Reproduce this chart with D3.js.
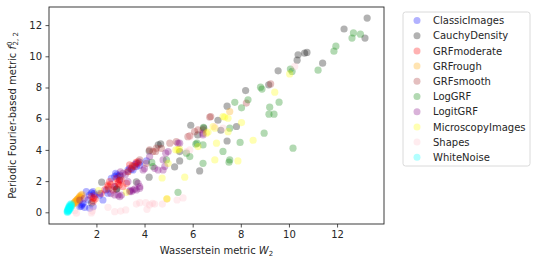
<!DOCTYPE html>
<html><head><meta charset="utf-8">
<script src="https://cdn.jsdelivr.net/npm/d3@7"></script>
<style>body{margin:0;background:#fff}svg{display:block}text{font-family:"DejaVu Sans",sans-serif;}</style>
</head><body><svg id="c" width="537" height="266"></svg>
<script>
const seriesNames = ["ClassicImages","CauchyDensity","GRFmoderate","GRFrough","GRFsmooth","LogGRF","LogitGRF","MicroscopyImages","Shapes","WhiteNoise"];
const seriesColors = ["blue","black","red","orange","brown","green","purple","yellow","pink","cyan"];
const xTicks = [2,4,6,8,10,12];
const yTicks = [0,2,4,6,8,10,12];

const classicImages = [[1.31,0.36],[1.37,0.4],[1.44,0.58],[1.51,0.32],[1.58,1.32],[1.65,0.79],[1.72,1.11],[1.72,0.26],[1.86,1.32],[1.86,0.36],[1.9,1.2],[2.14,1.11],[2.14,1.22],[2.27,0.79],[2.41,1.43],[2.48,1.22],[2.62,2.18],[2.76,2.29],[2.76,1.64],[2.8,2.5],[2.9,2.3],[2.97,2.07],[2.97,2.39],[3.31,2.71],[3.38,2.82],[3.52,2.71],[3.66,3.14],[3.66,2.92],[3.8,3.21],[3.8,3.02],[4.08,3.29],[1.4,0.5],[1.8,1.25],[2.85,2.4],[3.45,2.75],[3.6,3.05]];
const cauchyDensity = [[1.8,0.6],[2.22,1.93],[2.83,1.48],[2.85,1.5],[3.66,1.95],[4.19,3.93],[4.19,2.25],[4.57,4.32],[4.67,4.38],[5.25,2.91],[5.46,3.29],[5.46,3.89],[5.92,5.58],[6.21,4.96],[6.29,2.65],[6.46,5.39],[7.05,5.9],[7.17,5.26],[7.43,4.57],[7.43,6.8],[7.82,5.5],[8.2,7.8],[9.16,8.17],[9.55,9.07],[10.34,9.75],[10.38,10.1],[10.65,10.2],[10.75,10.25],[11.4,9.56],[12.29,11.75],[13.16,11.17],[13.25,12.45]];
const grfModerate = [[1.79,1.0],[1.86,0.68],[1.86,0.9],[1.95,0.85],[2.2,1.2],[2.35,1.45],[2.48,1.64],[2.48,1.75],[2.55,1.96],[2.69,1.43],[2.76,1.64],[2.83,2.18],[2.9,1.86],[2.9,1.96],[2.97,2.07],[3.04,2.07],[3.1,1.64],[3.25,1.86],[3.31,2.6],[3.38,3.04],[3.45,2.82],[3.59,2.93],[3.73,3.14],[3.73,3.25],[2.6,1.8],[2.95,1.75],[3.5,3.0],[3.65,3.2],[1.9,0.95]];
const grfRough = [[1.0,0.45],[1.05,0.55],[1.08,0.6],[1.1,0.65],[1.12,0.7],[1.15,0.72],[1.18,0.78],[1.2,0.82],[1.22,0.85],[1.25,0.9],[1.28,0.95],[1.3,1.0],[1.33,1.05],[1.37,1.1],[1.15,0.6],[1.25,0.75],[1.35,0.95],[1.4,1.15],[7.54,6.46],[4.93,0.85]];
const grfSmooth = [[2.5,1.5],[3.0,2.3],[3.31,2.6],[3.52,2.93],[3.8,3.36],[4.08,3.14],[4.21,4.0],[4.35,3.89],[4.49,4.11],[4.46,3.9],[4.7,4.1],[5.05,4.43],[5.32,4.53],[5.8,4.85],[5.88,4.9],[6.08,5.17],[6.22,5.28],[6.43,5.28],[6.71,6.1],[6.75,6.14],[8.23,7.0],[9.24,8.23]];
const logGRF = [[4.3,3.2],[4.35,2.93],[4.91,3.36],[5.39,1.28],[5.74,3.79],[5.88,3.57],[6.13,4.37],[6.18,4.43],[6.43,3.14],[6.43,4.32],[6.45,5.45],[7.26,3.9],[7.51,3.21],[7.54,3.36],[7.54,5.39],[7.75,7.05],[7.97,4.48],[8.03,6.7],[8.3,7.21],[8.82,8.02],[8.88,7.9],[8.97,5.07],[9.17,6.29],[9.38,6.29],[9.2,6.74],[9.59,7.06],[10.06,9.18],[10.13,9.03],[10.17,4.11],[11.21,9.11],[11.87,10.33],[11.95,10.65],[12.62,11.17],[12.68,11.5],[12.97,11.42]];
const logitGRF = [[1.31,0.79],[1.5,0.9],[1.93,1.11],[2.6,1.2],[2.76,1.11],[2.9,1.11],[2.97,1.0],[3.04,1.11],[3.38,1.32],[3.45,1.32],[3.52,1.43],[3.66,1.43],[3.73,1.86],[3.8,1.64],[3.8,1.54],[3.31,1.96],[3.0,2.6],[3.2,2.4],[3.94,2.71],[4.21,3.57],[4.42,2.82],[4.56,2.71],[4.77,2.71],[4.84,2.93],[4.77,3.36],[4.88,3.79],[4.98,3.89],[5.39,4.43],[5.46,4.43],[6.43,4.96],[6.43,5.07],[3.6,1.5],[3.4,1.4],[4.0,2.8],[3.1,2.5]];
const microscopyImages = [[2.09,1.39],[3.25,1.28],[4.73,2.2],[4.93,0.88],[4.98,3.14],[5.3,4.0],[5.39,4.0],[5.45,4.05],[5.67,2.25],[6.22,4.21],[6.57,5.07],[6.64,5.14],[6.85,5.5],[6.92,5.39],[6.92,3.36],[6.99,4.43],[7.26,6.14],[7.33,6.1],[7.47,6.03],[7.47,5.17],[7.88,3.29],[8.03,5.75],[8.51,4.62],[9.41,7.7],[10.03,8.87]];
const shapes = [[1.1,0.1],[1.17,-0.06],[1.79,-0.04],[1.83,0.08],[1.86,0.32],[2.48,0.32],[2.76,0.04],[3.01,0.08],[3.22,0.15],[3.66,0.53],[3.8,0.62],[4.05,0.62],[4.1,0.19],[4.21,0.47],[4.33,0.58],[4.42,0.53],[4.74,0.53],[5.35,0.79],[5.6,0.92],[5.74,3.89],[5.88,4.0],[5.88,4.85],[7.26,5.39],[6.92,5.49],[10.24,9.35]];
const whiteNoise = [[0.78,0.02],[0.8,0.05],[0.82,0.1],[0.84,0.12],[0.8,0.15],[0.85,0.2],[0.87,0.22],[0.83,0.25],[0.88,0.3],[0.9,0.33],[0.86,0.35],[0.92,0.4],[0.94,0.45],[0.9,0.5],[0.95,0.55],[0.97,0.4],[0.81,0.0],[0.85,0.08],[0.89,0.18],[0.93,0.28],[0.96,0.5],[0.87,0.4],[0.83,0.18],[0.91,0.26],[0.79,0.08],[0.86,0.3]];

const seriesData = [classicImages,cauchyDensity,grfModerate,grfRough,grfSmooth,logGRF,logitGRF,microscopyImages,shapes,whiteNoise];

const svg = d3.select("#c");
const L=49, R=384, T=7, B=224;
const x = d3.scaleLinear().domain([0.03,13.95]).range([L,R]);
const y = d3.scaleLinear().domain([-0.75,13.16]).range([B,T]);

const g = svg.append("g");
seriesData.forEach((data,i)=>{
  g.selectAll(null).data(data).enter().append("circle")
    .attr("cx",d=>x(d[0])).attr("cy",d=>y(d[1])).attr("r",3.6)
    .attr("fill",seriesColors[i]).attr("fill-opacity",0.3);
});

const xAxis = svg.append("g").attr("transform",`translate(0,${B})`)
  .call(d3.axisBottom(x).tickValues(xTicks).tickSize(3.5).tickPadding(3.5).tickFormat(d3.format("d")));
const yAxis = svg.append("g").attr("transform",`translate(${L},0)`)
  .call(d3.axisLeft(y).tickValues(yTicks).tickSize(3.5).tickPadding(3.5).tickFormat(d3.format("d")));
[xAxis,yAxis].forEach(a=>{
  a.select(".domain").remove();
  a.selectAll("text").attr("font-size",10).attr("fill","#262626").attr("font-family","DejaVu Sans");
  a.selectAll("line").attr("stroke","#262626").attr("stroke-width",0.8);
});
svg.append("rect").attr("x",L).attr("y",T).attr("width",R-L).attr("height",B-T)
  .attr("fill","none").attr("stroke","#262626").attr("stroke-width",0.9);

// x label
const xl = svg.append("text").attr("x",(L+R)/2).attr("y",254).attr("text-anchor","middle").attr("font-size",10).attr("fill","#262626");
xl.append("tspan").text("Wasserstein metric ");
xl.append("tspan").attr("font-style","italic").text("W");
xl.append("tspan").attr("font-size",7).attr("dy",2).text("2");

// y label
const yl = svg.append("text").attr("transform",`translate(16,${(T+B)/2}) rotate(-90)`).attr("text-anchor","middle").attr("font-size",10).attr("fill","#262626");
yl.append("tspan").text("Periodic Fourier-based metric ");
yl.append("tspan").attr("font-style","italic").text("f");
yl.append("tspan").attr("font-size",7).attr("dy",-4).text("0");
yl.append("tspan").attr("font-size",7).attr("dy",6).attr("dx",-4).text("2, 2");

// legend
const lg = svg.append("g");
lg.append("rect").attr("x",403).attr("y",12).attr("width",127).attr("height",154).attr("rx",2.5)
  .attr("fill","#fff").attr("stroke","#d0d0d0").attr("stroke-width",0.8);
seriesNames.forEach((n,i)=>{
  const yy = 20.5 + i*15.2;
  lg.append("circle").attr("cx",417).attr("cy",yy).attr("r",3.5).attr("fill",seriesColors[i]).attr("fill-opacity",0.3);
  lg.append("text").attr("x",433).attr("y",yy+3.6).attr("font-size",10).attr("fill","#262626").text(n);
});
</script></body></html>
